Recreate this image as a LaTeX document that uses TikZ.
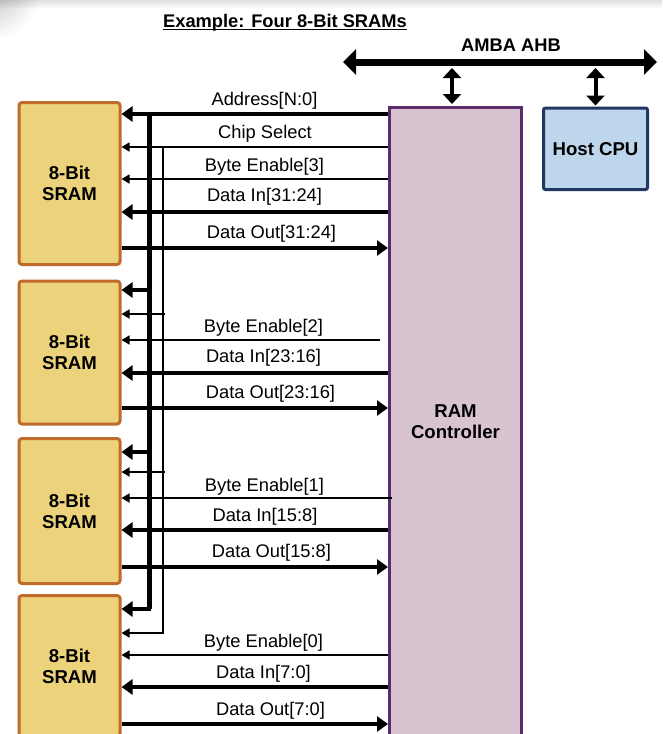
\documentclass[tikz,border=0pt]{standalone}
\usepackage{fontspec}
\setmainfont{Liberation Sans}
\usetikzlibrary{arrows.meta}
\definecolor{sramfill}{HTML}{EDD27C}
\definecolor{sramedge}{HTML}{C06A2B}
\definecolor{ctrlfill}{HTML}{D8C4D1}
\definecolor{ctrledge}{HTML}{5A2D6A}
\definecolor{cpufill}{HTML}{BDD6EB}
\definecolor{cpuedge}{HTML}{1F3763}
\begin{document}
\begin{tikzpicture}[x=1pt,y=-1pt,
  lbl/.style={font=\fontsize{18.3}{22}\selectfont, inner sep=0pt, anchor=base},
  boxlbl/.style={font=\fontsize{18.6}{21}\selectfont\bfseries, align=center, inner sep=0pt},
  sram/.style={draw=sramedge, fill=sramfill, line width=3pt, rounded corners=3pt,
    minimum width=101pt, boxlbl},
  thickarr/.style={line width=4.5pt, -{Triangle[length=11pt,width=15pt]}},
  thinarr/.style={line width=1.5pt, -{Triangle[length=8pt,width=9pt]}},
  thickbus/.style={line width=5pt},
  thinbus/.style={line width=1.5pt},
  ahb/.style={line width=7pt, {Triangle[length=13pt,width=25pt]}-{Triangle[length=13pt,width=25pt]}},
  tap/.style={line width=4pt, {Triangle[length=10pt,width=18pt]}-{Triangle[length=10pt,width=18pt]}}
]
\useasboundingbox (0,0) rectangle (662,734);
\clip (0,0) rectangle (662,734);

% soft shadow along the upper left edge of the sheet
\begin{scope}[blend mode=multiply]
  \shade[top color=black!12, bottom color=white] (0,0) rectangle (662,9);
  \shade[inner color=black!22, outer color=white] (-8,-8) circle (48pt);
\end{scope}

% title
\node[font=\fontsize{18.3}{22}\selectfont\bfseries, inner sep=0pt, anchor=base] (title) at (285,27) {Example: Four 8-Bit SRAMs};
\draw[line width=1.3pt] ([yshift=-2.6pt]title.base west) -- ([yshift=-2.6pt]title.base east);

% boxes
\node[sram, minimum height=162pt] (s1) at (69.5,183.5) {8-Bit\\SRAM};
\node[sram, minimum height=143pt] (s2) at (69.5,352.5) {8-Bit\\SRAM};
\node[sram, minimum height=145pt] (s3) at (69.5,511) {8-Bit\\SRAM};
\node[sram, minimum height=141pt] (s4) at (69.5,666) {8-Bit\\SRAM};
\node[draw=ctrledge, fill=ctrlfill, line width=3pt, minimum width=132pt, minimum height=629pt, boxlbl] (ctrl) at (455.5,422) {RAM\\Controller};
\node[draw=cpuedge, fill=cpufill, line width=3pt, rounded corners=2pt, minimum width=104pt, minimum height=81.5pt, boxlbl] (cpu) at (595.5,148.75) {Host CPU};

% AMBA AHB bus
\node[font=\fontsize{18.3}{22}\selectfont\bfseries, inner sep=0pt, anchor=base] (ahblbl) at (511,51) {AMBA AHB};
\coordinate (busL) at (343,62);
\coordinate (busR) at (657,62);
\coordinate (tapC) at (452,62);
\draw[ahb] (busL) -- (busR);
\draw[tap] ([yshift=-6pt]tapC) -- ([yshift=2pt]ctrl.north -| tapC);
\draw[tap] ([yshift=-6pt]busL -| cpu.north) -- ([yshift=1pt]cpu.north);

% shared address and chip-select buses
\coordinate (abTop) at (149,112);
\coordinate (abBot) at (149,609);
\coordinate (csTop) at (163,147);
\coordinate (csBot) at (163,633);
\draw[thickbus] (abTop) -- (abBot);
\draw[thickarr] ([yshift=2.5pt]abBot) |- (s4.east |- abBot);
\draw[thinbus] (csTop) -- (csBot);
\draw[thinarr] ([yshift=0.75pt]csBot) |- (s4.east |- csBot);

% SRAM 1
\draw[thickarr] (ctrl.west |- 0,114) -- (s1.east |- 0,114);
\draw[thinarr] (ctrl.west |- 0,147) -- (s1.east |- 0,147);
\draw[thinarr] (ctrl.west |- 0,179) -- (s1.east |- 0,179);
\draw[thickarr] (ctrl.west |- 0,212) -- (s1.east |- 0,212);
\draw[thickarr] (s1.east |- 0,248) -- (ctrl.west |- 0,248);
\node[lbl] (l1a) at (264.5,105) {Address[N:0]};
\node[lbl] (l1b) at (265,138) {Chip Select};
\node[lbl] (l1c) at (264.5,171) {Byte Enable[3]};
\node[lbl] (l1d) at (264.5,201) {Data In[31:24]};
\node[lbl] (l1e) at (271.5,238) {Data Out[31:24]};

% SRAM 2
\draw[thickarr] (151,290) -- (s2.east |- 0,290);
\draw[thinarr] (164.5,314) -- (s2.east |- 0,314);
\draw[thinarr] (380,340) -- (s2.east |- 0,340);
\draw[thickarr] (ctrl.west |- 0,373) -- (s2.east |- 0,373);
\draw[thickarr] (s2.east |- 0,408) -- (ctrl.west |- 0,408);
\node[lbl] (l2c) at (263.5,332) {Byte Enable[2]};
\node[lbl] (l2d) at (263.5,362) {Data In[23:16]};
\node[lbl] (l2e) at (270.5,398) {Data Out[23:16]};

% SRAM 3
\draw[thickarr] (151,452) -- (s3.east |- 0,452);
\draw[thinarr] (164.5,472) -- (s3.east |- 0,472);
\draw[thinarr] (392,498) -- (s3.east |- 0,498);
\draw[thickarr] (ctrl.west |- 0,530) -- (s3.east |- 0,530);
\draw[thickarr] (s3.east |- 0,567) -- (ctrl.west |- 0,567);
\node[lbl] (l3c) at (264.5,491) {Byte Enable[1]};
\node[lbl] (l3d) at (265,521) {Data In[15:8]};
\node[lbl] (l3e) at (271.5,557) {Data Out[15:8]};

% SRAM 4
\draw[thinarr] (ctrl.west |- 0,655) -- (s4.east |- 0,655);
\draw[thickarr] (ctrl.west |- 0,687) -- (s4.east |- 0,687);
\draw[thickarr] (s4.east |- 0,724) -- (ctrl.west |- 0,724);
\node[lbl] (l4c) at (263.5,647) {Byte Enable[0]};
\node[lbl] (l4d) at (263.5,678) {Data In[7:0]};
\node[lbl] (l4e) at (270.5,715) {Data Out[7:0]};
\end{tikzpicture}
\end{document}
